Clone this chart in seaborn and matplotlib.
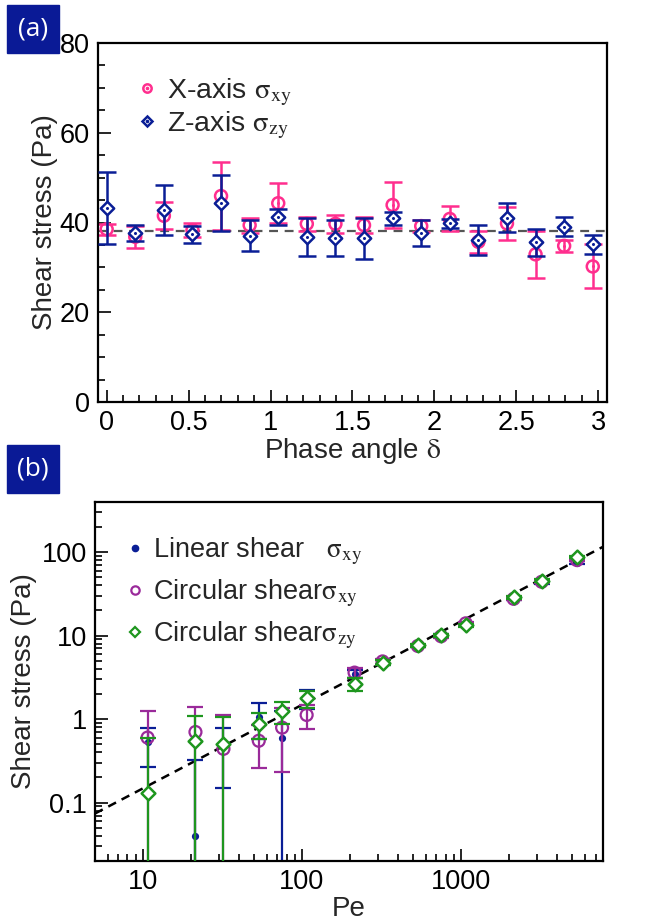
import numpy as np
import matplotlib
matplotlib.use("Agg")
import matplotlib.pyplot as plt
import seaborn as sns
from matplotlib.patches import Rectangle
from matplotlib.ticker import MultipleLocator, LogLocator, FuncFormatter, NullFormatter
from matplotlib.legend_handler import HandlerTuple

# ---------------- Panel (a) data ----------------
phase_angle = [0.0, 0.1745, 0.3491, 0.5236, 0.6981, 0.8727, 1.0472, 1.2217, 1.3963,
               1.5708, 1.7453, 1.9199, 2.0944, 2.2689, 2.4435, 2.6180, 2.7925, 2.9671]
x_stress = [38.5, 36.8, 41.5, 38.3, 45.9, 39.4, 44.3, 39.7, 39.7,
            39.4, 43.9, 39.2, 40.8, 35.7, 39.8, 32.9, 34.8, 30.2]
x_err = [1.2, 2.4, 3.0, 1.6, 7.5, 1.7, 4.4, 1.6, 2.0,
         1.8, 5.2, 1.3, 2.8, 2.5, 3.7, 5.2, 1.3, 4.9]
z_stress = [43.2, 37.7, 42.8, 37.4, 44.3, 37.1, 41.3, 36.8, 36.6,
            36.5, 40.9, 37.6, 39.8, 36.1, 41.1, 35.6, 39.1, 35.1]
z_err = [8.0, 1.8, 5.5, 1.9, 6.3, 3.4, 1.8, 4.3, 4.0,
         4.6, 1.5, 2.9, 1.0, 3.4, 3.3, 3.0, 2.2, 2.1]
mean_stress = 38.0

# ---------------- Panel (b) data ----------------
peclet = [10.7, 21.4, 32.1, 53.5, 75, 107, 214, 321, 535, 749, 1070, 2140, 3210, 5350]
lin_xy = [0.53, 0.040, 0.47, 1.07, 0.60, 1.77, 3.5, 4.8, 7.5, 10.0, 13.5, 27.5, 43.0, 74.0]
lin_xy_err = [0.26, 0.28, 0.32, 0.50, 0.65, 0.45, 0.4, 0.3, 0.3, 0.4, 0.6, 1.0, 2.0, 3.0]
circ_xy = [0.60, 0.70, 0.44, 0.55, 0.79, 1.12, 3.6, 4.9, 7.5, 9.8, 14.0, 27.5, 44.0, 80.0]
circ_xy_err = [0.65, 0.69, 0.67, 0.29, 0.56, 0.35, 0.5, 0.3, 0.3, 0.4, 0.6, 1.0, 2.0, 3.0]
circ_zy = [0.13, 0.55, 0.50, 0.87, 1.25, 1.77, 2.63, 4.74, 7.6, 10.1, 13.3, 28.6, 45.4, 87.3]
circ_zy_err = [0.47, 0.55, 0.55, 0.30, 0.37, 0.42, 0.45, 0.3, 0.3, 0.4, 0.6, 1.0, 2.0, 3.0]
fit_coef = 0.0148
fit_exponent = 1.0

PINK = "#FF2E8E"
NAVY = "#0A1E96"
PURPLE = "#9A2A9A"
GREEN = "#1E961E"
BOXBLUE = "#0A1A96"

sns.set_theme(style="ticks")
plt.rcParams["font.family"] = ["Liberation Sans", "DejaVu Sans"]
plt.rcParams["mathtext.fontset"] = "stix"
plt.rcParams["axes.linewidth"] = 1.6
plt.rcParams["xtick.direction"] = "in"
plt.rcParams["ytick.direction"] = "in"

W, H = 654, 924
fig = plt.figure(figsize=(W / 100, H / 100), dpi=100)

def fx(px):
    return px / W

def fy(py):
    return 1 - py / H

ax1 = fig.add_axes([fx(98), fy(402), fx(607) - fx(98), fy(43) - fy(402)])
ax2 = fig.add_axes([fx(95), fy(861), fx(603) - fx(95), fy(501.7) - fy(861)])

for ax in (ax1, ax2):
    ax.set_facecolor("white")
    for s in ax.spines.values():
        s.set_color("black")
        s.set_linewidth(1.6)
    ax.tick_params(which="both", direction="in", top=False, right=False,
                   color="black", width=1.2, labelsize=19.5, labelcolor="black")
    ax.tick_params(which="major", length=9, pad=6)
    ax.tick_params(which="minor", length=5)

# ---------------- Panel (a) ----------------
ax1.axhline(mean_stress, color="#555555", lw=1.6, ls=(0, (4, 3)), zorder=1)

ax1.errorbar(phase_angle, x_stress, yerr=x_err, fmt="none", ecolor=PINK,
             elinewidth=1.8, capsize=6.5, capthick=1.8, zorder=2)
sns.scatterplot(x=phase_angle, y=x_stress, ax=ax1, marker="o", s=8.6 ** 2,
                facecolor="none", edgecolor=PINK, linewidth=1.8, zorder=3)
sns.scatterplot(x=phase_angle, y=x_stress, ax=ax1, marker="o", s=2.2 ** 2,
                facecolor=PINK, edgecolor=PINK, linewidth=0, zorder=3)

ax1.errorbar(phase_angle, z_stress, yerr=z_err, fmt="none", ecolor=NAVY,
             elinewidth=1.8, capsize=6.5, capthick=1.8, zorder=4)
sns.scatterplot(x=phase_angle, y=z_stress, ax=ax1, marker="D", s=6.8 ** 2,
                facecolor="white", edgecolor=NAVY, linewidth=1.8, zorder=5)
sns.scatterplot(x=phase_angle, y=z_stress, ax=ax1, marker="o", s=2.2 ** 2,
                facecolor=NAVY, edgecolor=NAVY, linewidth=0, zorder=5)

ax1.set_xlim(-0.053, 3.054)
ax1.set_ylim(0, 80)
ax1.xaxis.set_major_locator(MultipleLocator(0.5))
ax1.xaxis.set_minor_locator(MultipleLocator(0.1))
ax1.yaxis.set_major_locator(MultipleLocator(20))
ax1.yaxis.set_minor_locator(MultipleLocator(5))
ax1.xaxis.set_major_formatter(FuncFormatter(lambda v, p: f"{v:g}"))
ax1.set_xlabel(r"Phase angle $\mathrm{\delta}$", fontsize=20, labelpad=0)
ax1.set_ylabel("Shear stress (Pa)", fontsize=20, labelpad=1)

h_x1 = plt.Line2D([], [], ls="none", marker="o", ms=6, mfc="none", mec=PINK, mew=1.8)
h_x2 = plt.Line2D([], [], ls="none", marker="o", ms=1.6, mfc=PINK, mec=PINK)
h_z1 = plt.Line2D([], [], ls="none", marker="D", ms=5, mfc="white", mec=NAVY, mew=1.8)
h_z2 = plt.Line2D([], [], ls="none", marker="o", ms=1.6, mfc=NAVY, mec=NAVY)
ax1.legend([(h_x1, h_x2), (h_z1, h_z2)],
           [r"X-axis $\mathrm{\sigma}_{\mathrm{xy}}$", r"Z-axis $\mathrm{\sigma}_{\mathrm{zy}}$"],
           handler_map={tuple: HandlerTuple(ndivide=1)},
           loc="upper left", bbox_to_anchor=(0.052, 0.939), frameon=False,
           fontsize=20.5, handlelength=0.8, handletextpad=0.28, labelspacing=0.05,
           borderaxespad=0)

# ---------------- Panel (b) ----------------
def lower_err(vals, errs):
    v = np.asarray(vals, float)
    e = np.asarray(errs, float)
    return np.where(v - e > 0, e, v - 1e-6)

pe = np.asarray(peclet, float)
pe_line = np.array([5.0, 8000.0])
ax2.plot(pe_line, fit_coef * pe_line ** fit_exponent, color="black", lw=1.8,
         ls=(0, (3.5, 2.5)), zorder=1)

ax2.errorbar(pe, lin_xy, yerr=[lower_err(lin_xy, lin_xy_err), lin_xy_err], fmt="none",
             ecolor=NAVY, elinewidth=1.6, capsize=6, capthick=1.6, zorder=2)
sns.scatterplot(x=pe, y=lin_xy, ax=ax2, marker="o", s=5.2 ** 2,
                facecolor=NAVY, edgecolor=NAVY, linewidth=0, zorder=3)

ax2.errorbar(pe, circ_xy, yerr=[lower_err(circ_xy, circ_xy_err), circ_xy_err], fmt="none",
             ecolor=PURPLE, elinewidth=1.6, capsize=6, capthick=1.6, zorder=4)
sns.scatterplot(x=pe, y=circ_xy, ax=ax2, marker="o", s=8.6 ** 2,
                facecolor="none", edgecolor=PURPLE, linewidth=1.6, zorder=5)

ax2.errorbar(pe, circ_zy, yerr=[lower_err(circ_zy, circ_zy_err), circ_zy_err], fmt="none",
             ecolor=GREEN, elinewidth=1.6, capsize=6, capthick=1.6, zorder=6)
sns.scatterplot(x=pe, y=circ_zy, ax=ax2, marker="D", s=7.0 ** 2,
                facecolor="white", edgecolor=GREEN, linewidth=1.8, zorder=7)

ax2.set_xscale("log")
ax2.set_yscale("log")
ax2.set_xlim(5, 7800)
ax2.set_ylim(0.02, 400)
ax2.xaxis.set_major_locator(LogLocator(base=10, numticks=10))
ax2.xaxis.set_minor_locator(LogLocator(base=10, subs=np.arange(2, 10), numticks=20))
ax2.yaxis.set_major_locator(LogLocator(base=10, numticks=10))
ax2.yaxis.set_minor_locator(LogLocator(base=10, subs=np.arange(2, 10), numticks=20))
ax2.xaxis.set_major_formatter(FuncFormatter(lambda v, p: f"{v:g}"))
ax2.yaxis.set_major_formatter(FuncFormatter(lambda v, p: f"{v:g}"))
ax2.xaxis.set_minor_formatter(NullFormatter())
ax2.yaxis.set_minor_formatter(NullFormatter())
ax2.set_xlabel("Pe", fontsize=20, labelpad=0.5)
ax2.set_ylabel("Shear stress (Pa)", fontsize=20, labelpad=3)

hb1 = plt.Line2D([], [], ls="none", marker="o", ms=4.5, mfc=NAVY, mec=NAVY)
hb2 = plt.Line2D([], [], ls="none", marker="o", ms=6, mfc="none", mec=PURPLE, mew=1.6)
hb3 = plt.Line2D([], [], ls="none", marker="D", ms=5, mfc="white", mec=GREEN, mew=1.6)
ax2.legend([hb1, hb2, hb3],
           [r"Linear shear   $\mathrm{\sigma}_{\mathrm{xy}}$",
            r"Circular shear$\mathrm{\sigma}_{\mathrm{xy}}$",
            r"Circular shear$\mathrm{\sigma}_{\mathrm{zy}}$"],
           loc="upper left", bbox_to_anchor=(0.039, 0.935), frameon=False,
           fontsize=19.5, handlelength=0.7, handletextpad=0.3, labelspacing=0.38,
           borderaxespad=0)

# ---------------- panel tags ----------------
for tag, top in (("(a)", 5), ("(b)", 445)):
    fig.patches.append(Rectangle((fx(7), fy(top + 48)), fx(52), 48 / H,
                                 transform=fig.transFigure, color=BOXBLUE, zorder=0))
    fig.text(fx(33), fy(top + 24), tag, color="white", fontsize=19,
             ha="center", va="center", family=["Open Sans", "DejaVu Sans"])

fig.savefig("out.png", dpi=100, facecolor="white")
